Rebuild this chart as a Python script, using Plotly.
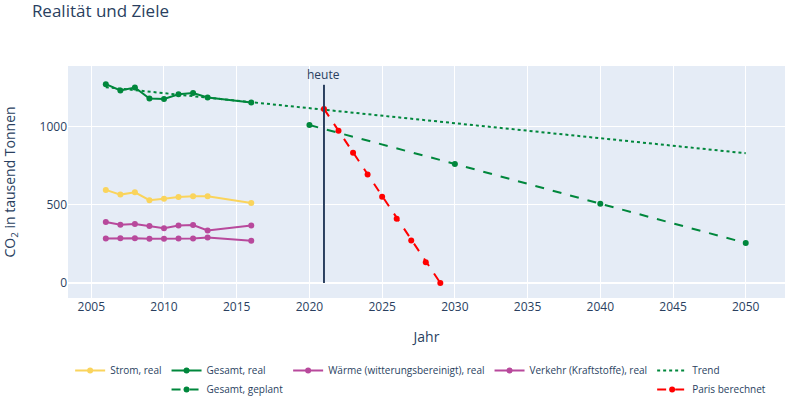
import plotly.graph_objects as go

# Jahre und Werte (tausend Tonnen CO2)
years_real = [2006, 2007, 2008, 2009, 2010, 2011, 2012, 2013, 2016]
strom_real = [594, 564, 579, 528, 538, 549, 553, 553, 511]
gesamt_real = [1269, 1229, 1248, 1177, 1175, 1205, 1212, 1184, 1152]
waerme_real = [389, 372, 376, 363, 350, 367, 370, 335, 367]
verkehr_real = [284, 286, 286, 282, 282, 284, 284, 290, 269]

years_plan = [2020, 2030, 2040, 2050]
gesamt_plan = [1008, 760, 506, 255]

years_trend = [2006, 2050]
trend = [1250, 828]

years_paris = [2021, 2022, 2023, 2024, 2025, 2026, 2027, 2028, 2029]
paris = [1111, 972, 831, 692, 551, 410, 271, 133, 0]

heute = 2021
heute_top = 1265

green = "#00873c"
yellow = "#fad45c"
pink = "#b8499c"

fig = go.Figure()
fig.add_trace(go.Scatter(x=years_real, y=strom_real, name="Strom, real",
                         mode="lines+markers", legendgroup="strom",
                         line=dict(color=yellow, width=2), marker=dict(size=6)))
fig.add_trace(go.Scatter(x=years_real, y=gesamt_real, name="Gesamt, real",
                         mode="lines+markers", legendgroup="gesamt",
                         line=dict(color=green, width=2), marker=dict(size=6)))
fig.add_trace(go.Scatter(x=years_plan, y=gesamt_plan, name="Gesamt, geplant",
                         mode="lines+markers", legendgroup="gesamt",
                         line=dict(color=green, width=2, dash="dash"), marker=dict(size=6)))
fig.add_trace(go.Scatter(x=years_real, y=waerme_real, name="Wärme (witterungsbereinigt), real",
                         mode="lines+markers", legendgroup="waerme",
                         line=dict(color=pink, width=2), marker=dict(size=6)))
fig.add_trace(go.Scatter(x=years_real, y=verkehr_real, name="Verkehr (Kraftstoffe), real",
                         mode="lines+markers", legendgroup="verkehr",
                         line=dict(color=pink, width=2), marker=dict(size=6)))
fig.add_trace(go.Scatter(x=years_trend, y=trend, name="Trend",
                         mode="lines", legendgroup="ziel",
                         line=dict(color=green, width=2, dash="dot")))
fig.add_trace(go.Scatter(x=years_paris, y=paris, name="Paris berechnet",
                         mode="lines+markers", legendgroup="ziel",
                         line=dict(color="red", width=2, dash="dash"), marker=dict(size=6)))

# Linie "heute"
fig.add_shape(type="line", x0=heute, x1=heute, y0=0, y1=heute_top,
              line=dict(color="#2a3f5f", width=2))
fig.add_annotation(x=heute, y=heute_top, text="heute", showarrow=False,
                   yanchor="bottom", font=dict(size=12, color="#2a3f5f"))

fig.update_layout(
    width=797,
    height=408,
    template="plotly",
    title=dict(text="Realität und Ziele", x=0.04, xanchor="left",
               y=0.973, yanchor="middle", font=dict(size=17)),
    margin=dict(l=68, r=12, t=66, b=110),
    xaxis=dict(title=dict(text="Jahr", standoff=18), range=[2003.4, 2052.7],
               automargin=False),
    yaxis=dict(title=dict(text="CO<sub>2</sub> in tausend Tonnen", standoff=33),
               range=[-96, 1385], automargin=False),
    legend=dict(orientation="h", x=0.003, xanchor="left", yref="container",
                y=0.1274, yanchor="top", font=dict(size=10)),
)

# Seite ohne Rand, damit die Grafik bei 0,0 beginnt
fig.write_html("out.html", config={"displayModeBar": False},
               post_script="document.body.style.margin='0';")
